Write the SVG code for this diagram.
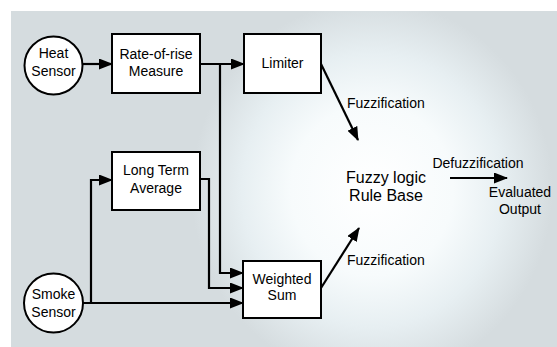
<svg xmlns="http://www.w3.org/2000/svg" width="557" height="347" viewBox="0 0 557 347">
<style>
text{font-family:"Liberation Sans",Arial,sans-serif;font-size:14px;fill:#000;text-anchor:middle}
.box{fill:#fff;stroke:#000;stroke-width:2}
.c{fill:none;stroke:#000;stroke-width:2.2}
.lbl{text-anchor:start}
</style>
<defs>
<radialGradient id="glow" gradientUnits="userSpaceOnUse" cx="372" cy="190" r="190" gradientTransform="translate(372 190) scale(0.95 1) translate(-372 -190)">
<stop offset="0" stop-color="#ffffff"/>
<stop offset="0.45" stop-color="#f7fbfc"/>
<stop offset="0.72" stop-color="#e7eff2"/>
<stop offset="1" stop-color="#d5dcdf"/>
</radialGradient>
<marker id="ah" markerUnits="userSpaceOnUse" viewBox="0 0 14 11" refX="13" refY="5.5" markerWidth="14" markerHeight="11" orient="auto">
<path d="M0,0 L14,5.5 L0,11 z" fill="#000"/>
</marker>
</defs>
<rect x="11" y="11" width="546" height="336" fill="#d5dcdf"/>
<rect x="11" y="11" width="546" height="336" fill="url(#glow)"/>
<g id="connectors">
<path class="c" d="M82,64 H112" marker-end="url(#ah)"/>
<path class="c" d="M200,64 H244" marker-end="url(#ah)"/>
<path class="c" d="M220,64 V273 H243" marker-end="url(#ah)"/>
<path class="c" d="M200,179 H209 V288 H243" marker-end="url(#ah)"/>
<path class="c" d="M83,303 H243" marker-end="url(#ah)"/>
<path class="c" d="M91,303 V180 H112" marker-end="url(#ah)"/>
<path class="c" d="M321,64 L358,140" marker-end="url(#ah)"/>
<path class="c" d="M321,288 L359,228" marker-end="url(#ah)"/>
<path class="c" d="M450,178 H507" marker-end="url(#ah)"/>
<text class="lbl" x="347" y="108">Fuzzification</text>
<text class="lbl" x="347" y="265">Fuzzification</text>
<text x="478" y="168">Defuzzification</text>
</g>
<g id="heat-sensor">
<circle class="box" cx="53.5" cy="65.5" r="29"/>
<text x="53.5" y="58">Heat</text>
<text x="53.5" y="76">Sensor</text>
</g>
<g id="smoke-sensor">
<circle class="box" cx="53.5" cy="303" r="29.5"/>
<text x="53.5" y="299">Smoke</text>
<text x="53.5" y="317">Sensor</text>
</g>
<g id="rate-of-rise">
<rect class="box" x="112" y="34" width="88" height="59"/>
<text x="156" y="59">Rate-of-rise</text>
<text x="156" y="76">Measure</text>
</g>
<g id="limiter">
<rect class="box" x="244" y="34" width="77" height="59"/>
<text x="282.5" y="68">Limiter</text>
</g>
<g id="long-term-average">
<rect class="box" x="112" y="152" width="88" height="58"/>
<text x="156" y="175">Long Term</text>
<text x="156" y="193">Average</text>
</g>
<g id="weighted-sum">
<rect class="box" x="243" y="261" width="78" height="57"/>
<text x="282" y="284">Weighted</text>
<text x="282" y="300">Sum</text>
</g>
<g id="rule-base">
<text x="386" y="183" style="font-size:16px">Fuzzy logic</text>
<text x="386" y="201" style="font-size:16px">Rule Base</text>
</g>
<g id="output">
<text x="520" y="197">Evaluated</text>
<text x="520" y="214">Output</text>
</g>
</svg>
